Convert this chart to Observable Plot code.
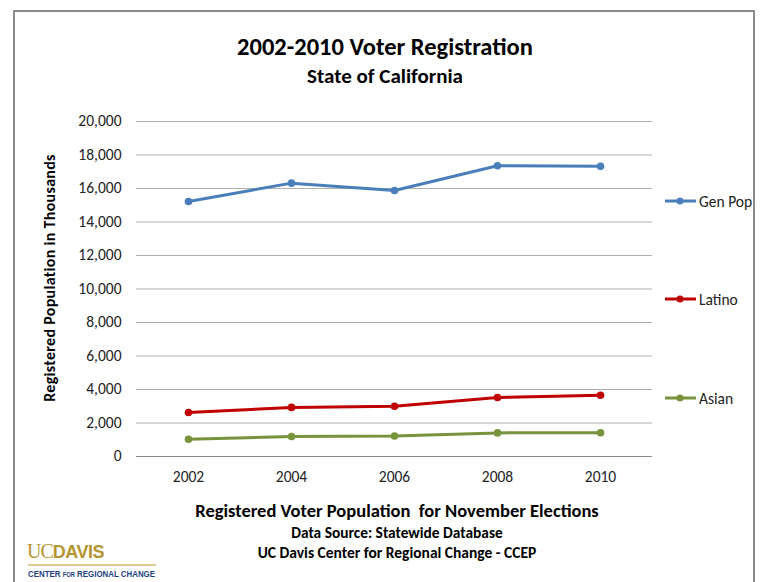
<!DOCTYPE html>
<html>
<head>
<meta charset="utf-8">
<script src="https://cdn.jsdelivr.net/npm/d3@7"></script>
<script src="https://cdn.jsdelivr.net/npm/@observablehq/plot@0.6"></script>
<style>
  html, body { margin: 0; padding: 0; background: #fff; }
  body { width: 763px; height: 582px; position: relative; overflow: hidden; font-family: Carlito, Calibri, Lato, "Open Sans", sans-serif; }
  .frame { position: absolute; left: 13px; top: 10px; width: 742px; height: 620px; border: 2px solid #8c8c8c; box-sizing: border-box; }
  .abs { position: absolute; white-space: nowrap; line-height: 1.2; }
  .cc { transform: translate(-50%, -50%); text-align: center; font-weight: bold; color: #000; }
  #chart { position: absolute; left: 0; top: 0; }
  .legend-item { position: absolute; display: flex; align-items: center; font-size: 15.5px; color: #222; }
</style>
</head>
<body>
<div class="frame"></div>
<div id="chart"></div>
<div class="abs cc" style="left:385px; top:48px; font-size:24.5px;">2002-2010 Voter Registration</div>
<div class="abs cc" style="left:385px; top:77px; font-size:21px;">State of California</div>
<div class="abs" style="left:50px; top:278px; font-size:16px; letter-spacing:0.3px; font-weight:bold; color:#000; transform: translate(-50%,-50%) rotate(-90deg);">Registered Population in Thousands</div>
<div class="abs cc" style="left:397px; top:511px; font-size:18.5px;">Registered Voter Population&nbsp; for November Elections</div>
<div class="abs cc" style="left:397px; top:533px; font-size:15.4px;">Data Source: Statewide Database</div>
<div class="abs cc" style="left:397px; top:553px; font-size:15.5px;">UC Davis Center for Regional Change - CCEP</div>
<div id="legend"></div>
<div id="logo1" class="abs" style="left:27px; top:541px; color:#b5952f; line-height:1; transform-origin: 0 0;">
  <span style="font-family:'Liberation Serif',serif; font-size:21px; letter-spacing:-1px;">UC</span><span style="font-family:'Liberation Sans',sans-serif; font-weight:bold; font-size:19px; letter-spacing:-0.5px;">DAVIS</span>
</div>
<div class="abs" style="left:28px; top:564px; width:128px; height:2px; background:#ddcc96;"></div>
<div id="logo2" class="abs" style="left:28px; top:569px; color:#1f3f7f; font-family:'Liberation Sans',sans-serif; font-weight:bold; font-size:9.5px; line-height:1; transform-origin: 0 0;">CENTER <span style="font-size:7px;">FOR</span> REGIONAL CHANGE</div>
<script>
const years = ["2002", "2004", "2006", "2008", "2010"];
const genPop = [15220, 16320, 15880, 17360, 17330];
const latino = [2630, 2930, 3000, 3520, 3660];
const asian = [1030, 1190, 1220, 1410, 1420];
const seriesNames = ["Gen Pop", "Latino", "Asian"];
const seriesColors = ["#4a7ebb", "#c00000", "#77933c"];
const yTicks = [0, 2000, 4000, 6000, 8000, 10000, 12000, 14000, 16000, 18000, 20000];

const seriesValues = [genPop, latino, asian];
const data = [];
seriesNames.forEach((name, i) => {
  years.forEach((yr, j) => data.push({ series: name, year: yr, value: seriesValues[i][j] }));
});

const chart = Plot.plot({
  width: 763,
  height: 582,
  marginLeft: 136,
  marginRight: 111,
  marginTop: 121,
  marginBottom: 126,
  style: { fontFamily: "Carlito, Calibri, Lato, 'Open Sans', sans-serif", fontSize: "15.5px", color: "#222", background: "transparent" },
  x: { type: "point", domain: years, padding: 0.5, label: null, tickSize: 0, tickPadding: 14 },
  y: { domain: [0, 20000], ticks: yTicks, tickFormat: d3.format(","), label: null, tickSize: 0, tickPadding: 15 },
  color: { domain: seriesNames, range: seriesColors },
  marks: [
    Plot.gridY(yTicks.filter(d => d > 0), { stroke: "#b0b0b0", strokeOpacity: 1, strokeWidth: 1 }),
    Plot.ruleY([0], { stroke: "#8c8c8c", strokeWidth: 1.2 }),
    Plot.lineY(data, { x: "year", y: "value", z: "series", stroke: "series", strokeWidth: 3 }),
    Plot.dot(data, { x: "year", y: "value", fill: "series", r: 3.8 })
  ]
});
document.getElementById("chart").appendChild(chart);

// legend
const legendTops = { "Gen Pop": 201, "Latino": 299, "Asian": 398 };
const legend = document.getElementById("legend");
seriesNames.forEach((name, i) => {
  const item = document.createElement("div");
  item.className = "legend-item";
  item.style.left = "664px";
  item.style.top = (legendTops[name] - 10) + "px";
  item.style.height = "20px";
  item.innerHTML = `<svg width="33" height="10" style="margin-right:2px"><line x1="1" y1="5" x2="32" y2="5" stroke="${seriesColors[i]}" stroke-width="3"/><circle cx="16" cy="5" r="3.5" fill="${seriesColors[i]}"/></svg><span>${name}</span>`;
  legend.appendChild(item);
});

// fit logo text widths
function fitWidth(id, target) {
  const el = document.getElementById(id);
  const w = el.getBoundingClientRect().width;
  if (w > 0) el.style.transform = `scaleX(${target / w})`;
}
fitWidth("logo1", 77);
fitWidth("logo2", 127);
</script>
</body>
</html>
